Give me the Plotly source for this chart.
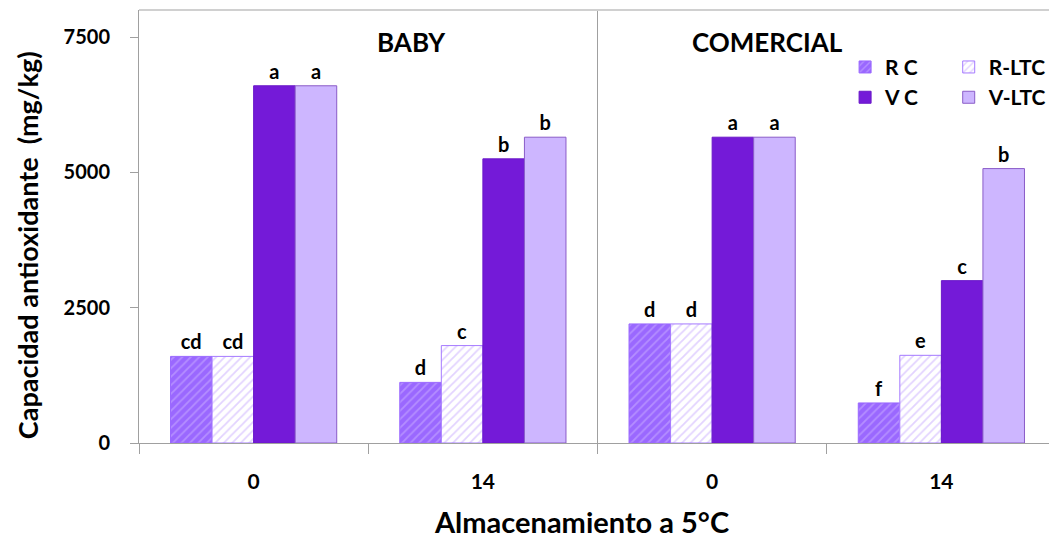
import plotly.graph_objects as go

categories = ["0", "14", "0", "14"]
groups = ["BABY", "COMERCIAL"]
series_names = ["R C", "R-LTC", "V C", "V-LTC"]
rc = [1600, 1120, 2200, 740]
rltc = [1600, 1800, 2200, 1620]
vc = [6600, 5250, 5650, 3000]
vltc = [6600, 5650, 5650, 5070]
rc_lbl = ["cd", "d", "d", "f"]
rltc_lbl = ["cd", "c", "d", "e"]
vc_lbl = ["a", "b", "a", "c"]
vltc_lbl = ["a", "b", "a", "b"]
y_ticks = [0, 2500, 5000, 7500]

FONT = "Lato"
xpos = list(range(len(categories)))

fig = go.Figure()

def add(name, vals, lbls, color, line, pattern, legend):
    kw = dict(color=color, line=dict(color=line, width=1))
    if pattern is not None:
        kw["pattern"] = pattern
    fig.add_trace(go.Bar(
        x=xpos, y=vals, name=name, text=lbls, textposition="outside",
        textfont=dict(family=FONT, size=20, color="black", weight="bold"),
        marker=kw, legend=legend, cliponaxis=False,
    ))

add(series_names[0], rc, rc_lbl, "#9a68ff", "#9a68ff",
    dict(shape="/", bgcolor="#9a68ff", fgcolor="#cdb4ff", size=6, solidity=0.3), "legend")
add(series_names[1], rltc, rltc_lbl, "#ffffff", "#a57aff",
    dict(shape="/", bgcolor="#ffffff", fgcolor="#c6a8ff", size=6, solidity=0.3), "legend2")
add(series_names[2], vc, vc_lbl, "#741ad8", "#6a18c8", None, "legend")
add(series_names[3], vltc, vltc_lbl, "#cdb6ff", "#8a5cc8", None, "legend2")

fig.update_layout(
    width=1049, height=531,
    margin=dict(l=131, r=1, t=2, b=96),
    paper_bgcolor="white", plot_bgcolor="white",
    barmode="group", bargap=0.275, bargroupgap=0,
    font=dict(family=FONT, size=18, color="black"),
    xaxis=dict(
        range=[-0.5, 3.5], tickvals=[-0.5, 0.5, 1.5, 2.5, 3.5],
        ticktext=["", "", "", "", ""], ticks="outside", ticklen=10,
        tickcolor="#a0a0a0", showline=True, linecolor="#a0a0a0", linewidth=1,
        showgrid=False, zeroline=False, fixedrange=True,
    ),
    xaxis2=dict(
        range=[-0.5, 3.5], overlaying="x", side="bottom",
        tickvals=xpos, ticktext=categories, ticks="", showline=False,
        showgrid=False, zeroline=False, ticklabelstandoff=24,
        tickfont=dict(family=FONT, size=21, weight="bold"),
    ),
    yaxis=dict(
        range=[0, 8000], tickvals=y_ticks, ticks="outside", ticklen=8,
        tickcolor="#a0a0a0", showline=True, linecolor="#a0a0a0", linewidth=1,
        showgrid=False, zeroline=False, ticklabelstandoff=16,
        tickfont=dict(family=FONT, size=20, weight="bold"),
    ),
    legend=dict(x=0.77, y=0.915, xanchor="left", yanchor="top",
                font=dict(family=FONT, size=21, weight="bold"),
                bgcolor="rgba(0,0,0,0)", tracegroupgap=2, itemwidth=30),
    legend2=dict(x=0.883, y=0.915, xanchor="left", yanchor="top",
                 font=dict(family=FONT, size=21, weight="bold"),
                 bgcolor="rgba(0,0,0,0)", tracegroupgap=2, itemwidth=30),
    showlegend=True,
)

fig.add_trace(go.Scatter(x=xpos, y=[None] * len(xpos), xaxis="x2", showlegend=False,
                         hoverinfo="skip", mode="markers"))

fig.add_shape(type="line", xref="x", yref="paper", x0=1.5, x1=1.5, y0=0, y1=1,
              line=dict(color="#a0a0a0", width=1))
fig.add_shape(type="line", xref="paper", yref="paper", x0=0, x1=1, y0=1, y1=1,
              line=dict(color="#d0d0d0", width=2))

fig.add_annotation(text=groups[0], xref="x", yref="paper", x=0.69, y=0.967,
                   showarrow=False, font=dict(family=FONT, size=26, weight="bold"))
fig.add_annotation(text=groups[1], xref="x", yref="paper", x=2.24, y=0.967,
                   showarrow=False, font=dict(family=FONT, size=26, weight="bold"))
fig.add_annotation(text="Almacenamiento a 5°C", xref="paper", yref="paper",
                   x=0.483, y=-0.182, yanchor="middle", showarrow=False,
                   font=dict(family=FONT, size=29, weight="bold"))
fig.add_annotation(text="Capacidad antioxidante  (mg/kg)", xref="paper", yref="paper",
                   x=-0.1216, y=0.458, textangle=-90, xanchor="center", yanchor="middle",
                   showarrow=False, font=dict(family=FONT, size=27, weight="bold"))

fig.write_html("out.html")
